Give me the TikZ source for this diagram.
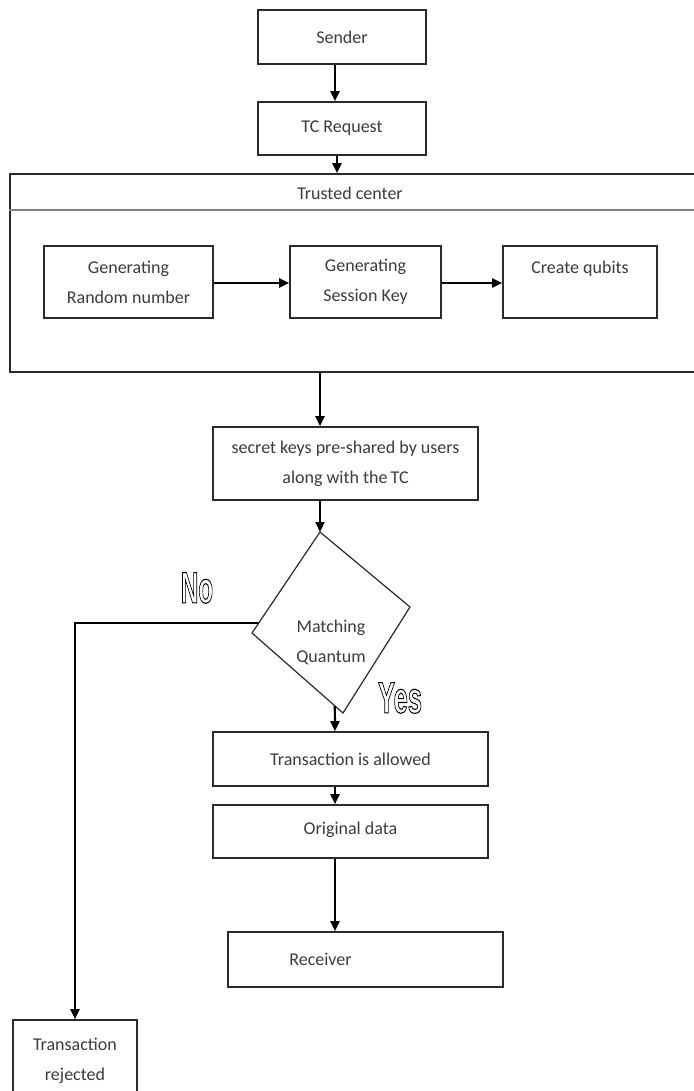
\documentclass[tikz,border=0pt]{standalone}
\usepackage{fontspec}
\setmainfont{Carlito}
\newfontfamily\ynfont{Liberation Sans}
\usepackage{graphicx}
\usetikzlibrary{arrows.meta,calc}
\definecolor{boxc}{HTML}{2A2A2A}
\definecolor{txtc}{HTML}{3C3C3C}
\newcommand\hollowtext[1]{\special{pdf:code q 1 Tr 1.1 w 0 G}#1\special{pdf:code Q}}
\tikzset{
  lbl/.style={font=\fontsize{18pt}{30pt}\selectfont, text=txtc, align=center, inner sep=0pt},
  box/.style={draw=boxc, line width=1.6pt, inner sep=0pt, lbl},
  arr/.style={draw=black, line width=2.2pt, -{Triangle[width=9pt,length=10pt]}},
  yn/.style={font=\ynfont\bfseries\fontsize{44pt}{44pt}\selectfont, inner sep=0pt}
}
\begin{document}
\begin{tikzpicture}[x=1pt,y=-1pt]
\useasboundingbox (0,0) rectangle (693,1091);
\fill[white] (0,0) rectangle (693,1091);

% top boxes
\node[box, minimum width=168pt, minimum height=54pt] (sender) at (342,37) {Sender};
\node[box, minimum width=168pt, minimum height=53pt] (tcreq) at (342,128.5) {TC Request};

% trusted center frame
\node[draw=boxc, line width=1.6pt, minimum width=700pt, minimum height=198pt, inner sep=0pt] (tc) at (360,273) {};
\coordinate (hy) at (0,210);
\draw[draw=gray, line width=2.4pt] (tc.west |- hy) -- (tc.east |- hy);
\node[lbl] (tctitle) at (350,193) {Trusted center};

\node[box, minimum width=169pt, minimum height=72pt] (rand) at (128.5,282) {Generating\\Random number};
\node[box, minimum width=151pt, minimum height=72pt] (skey) at (365.5,282) {Generating\\Session Key};
\node[box, minimum width=154pt, minimum height=72pt] (qub) at (580,282) {Create qubits\\\phantom{X}};

% secret keys
\node[box, minimum width=265pt, minimum height=73pt] (secret) at (345.5,463.5) {secret keys pre-shared by users\\along with the\,TC};

% diamond
\coordinate (dt) at (320,532);
\coordinate (dr) at (410,607);
\coordinate (db) at (343,713);
\coordinate (dl) at (252,633);
\draw[draw=boxc, line width=1.2pt] (dt) -- (dr) -- (db) -- (dl) -- cycle;
\node[lbl] (match) at (331,642) {Matching\\Quantum};

% lower boxes
\node[box, minimum width=275pt, minimum height=54pt] (allowed) at (350.5,759) {Transaction is allowed};
\node[box, minimum width=275pt, minimum height=53pt, text depth=8pt, text height=13pt] (orig) at (350.5,831.5) {Original data};
\node[box, minimum width=275pt, minimum height=55pt] (recv) at (365.5,959.5) {\hspace*{-90pt}Receiver};
\node[box, minimum width=124pt, minimum height=82pt] (rej) at (75,1061) {Transaction\\rejected};

% yes / no labels
\node[yn] (no) at (197,588) {\scalebox{0.55}[1]{\hollowtext{No}}};
\node[yn] (yes) at (400,698) {\scalebox{0.58}[1]{\hollowtext{Yes}}};

% connectors
\coordinate (ax0) at (335,0);
\coordinate (ax1) at (337,0);
\coordinate (ax2) at (320,0);
\coordinate (ay1) at (0,283);
\draw[arr] (sender.south -| ax0) -- (tcreq.north -| ax0);
\draw[arr] (tcreq.south -| ax1) -- (tc.north -| ax1);
\draw[arr] (rand.east |- ay1) -- (skey.west |- ay1);
\draw[arr] (skey.east |- ay1) -- (qub.west |- ay1);
\draw[arr] (tc.south -| ax2) -- (secret.north -| ax2);
\draw[arr] (secret.south -| ax2) -- (dt);
\draw[arr] ($(dl)!0.91!(db)$) -- (allowed.north -| ax0);
\draw[arr] (allowed.south -| ax0) -- (orig.north -| ax0);
\draw[arr] (orig.south -| ax0) -- (recv.north -| ax0);
\draw[arr] ($(dl)!0.1!(dt)$) -| (rej.north);
\end{tikzpicture}
\end{document}
